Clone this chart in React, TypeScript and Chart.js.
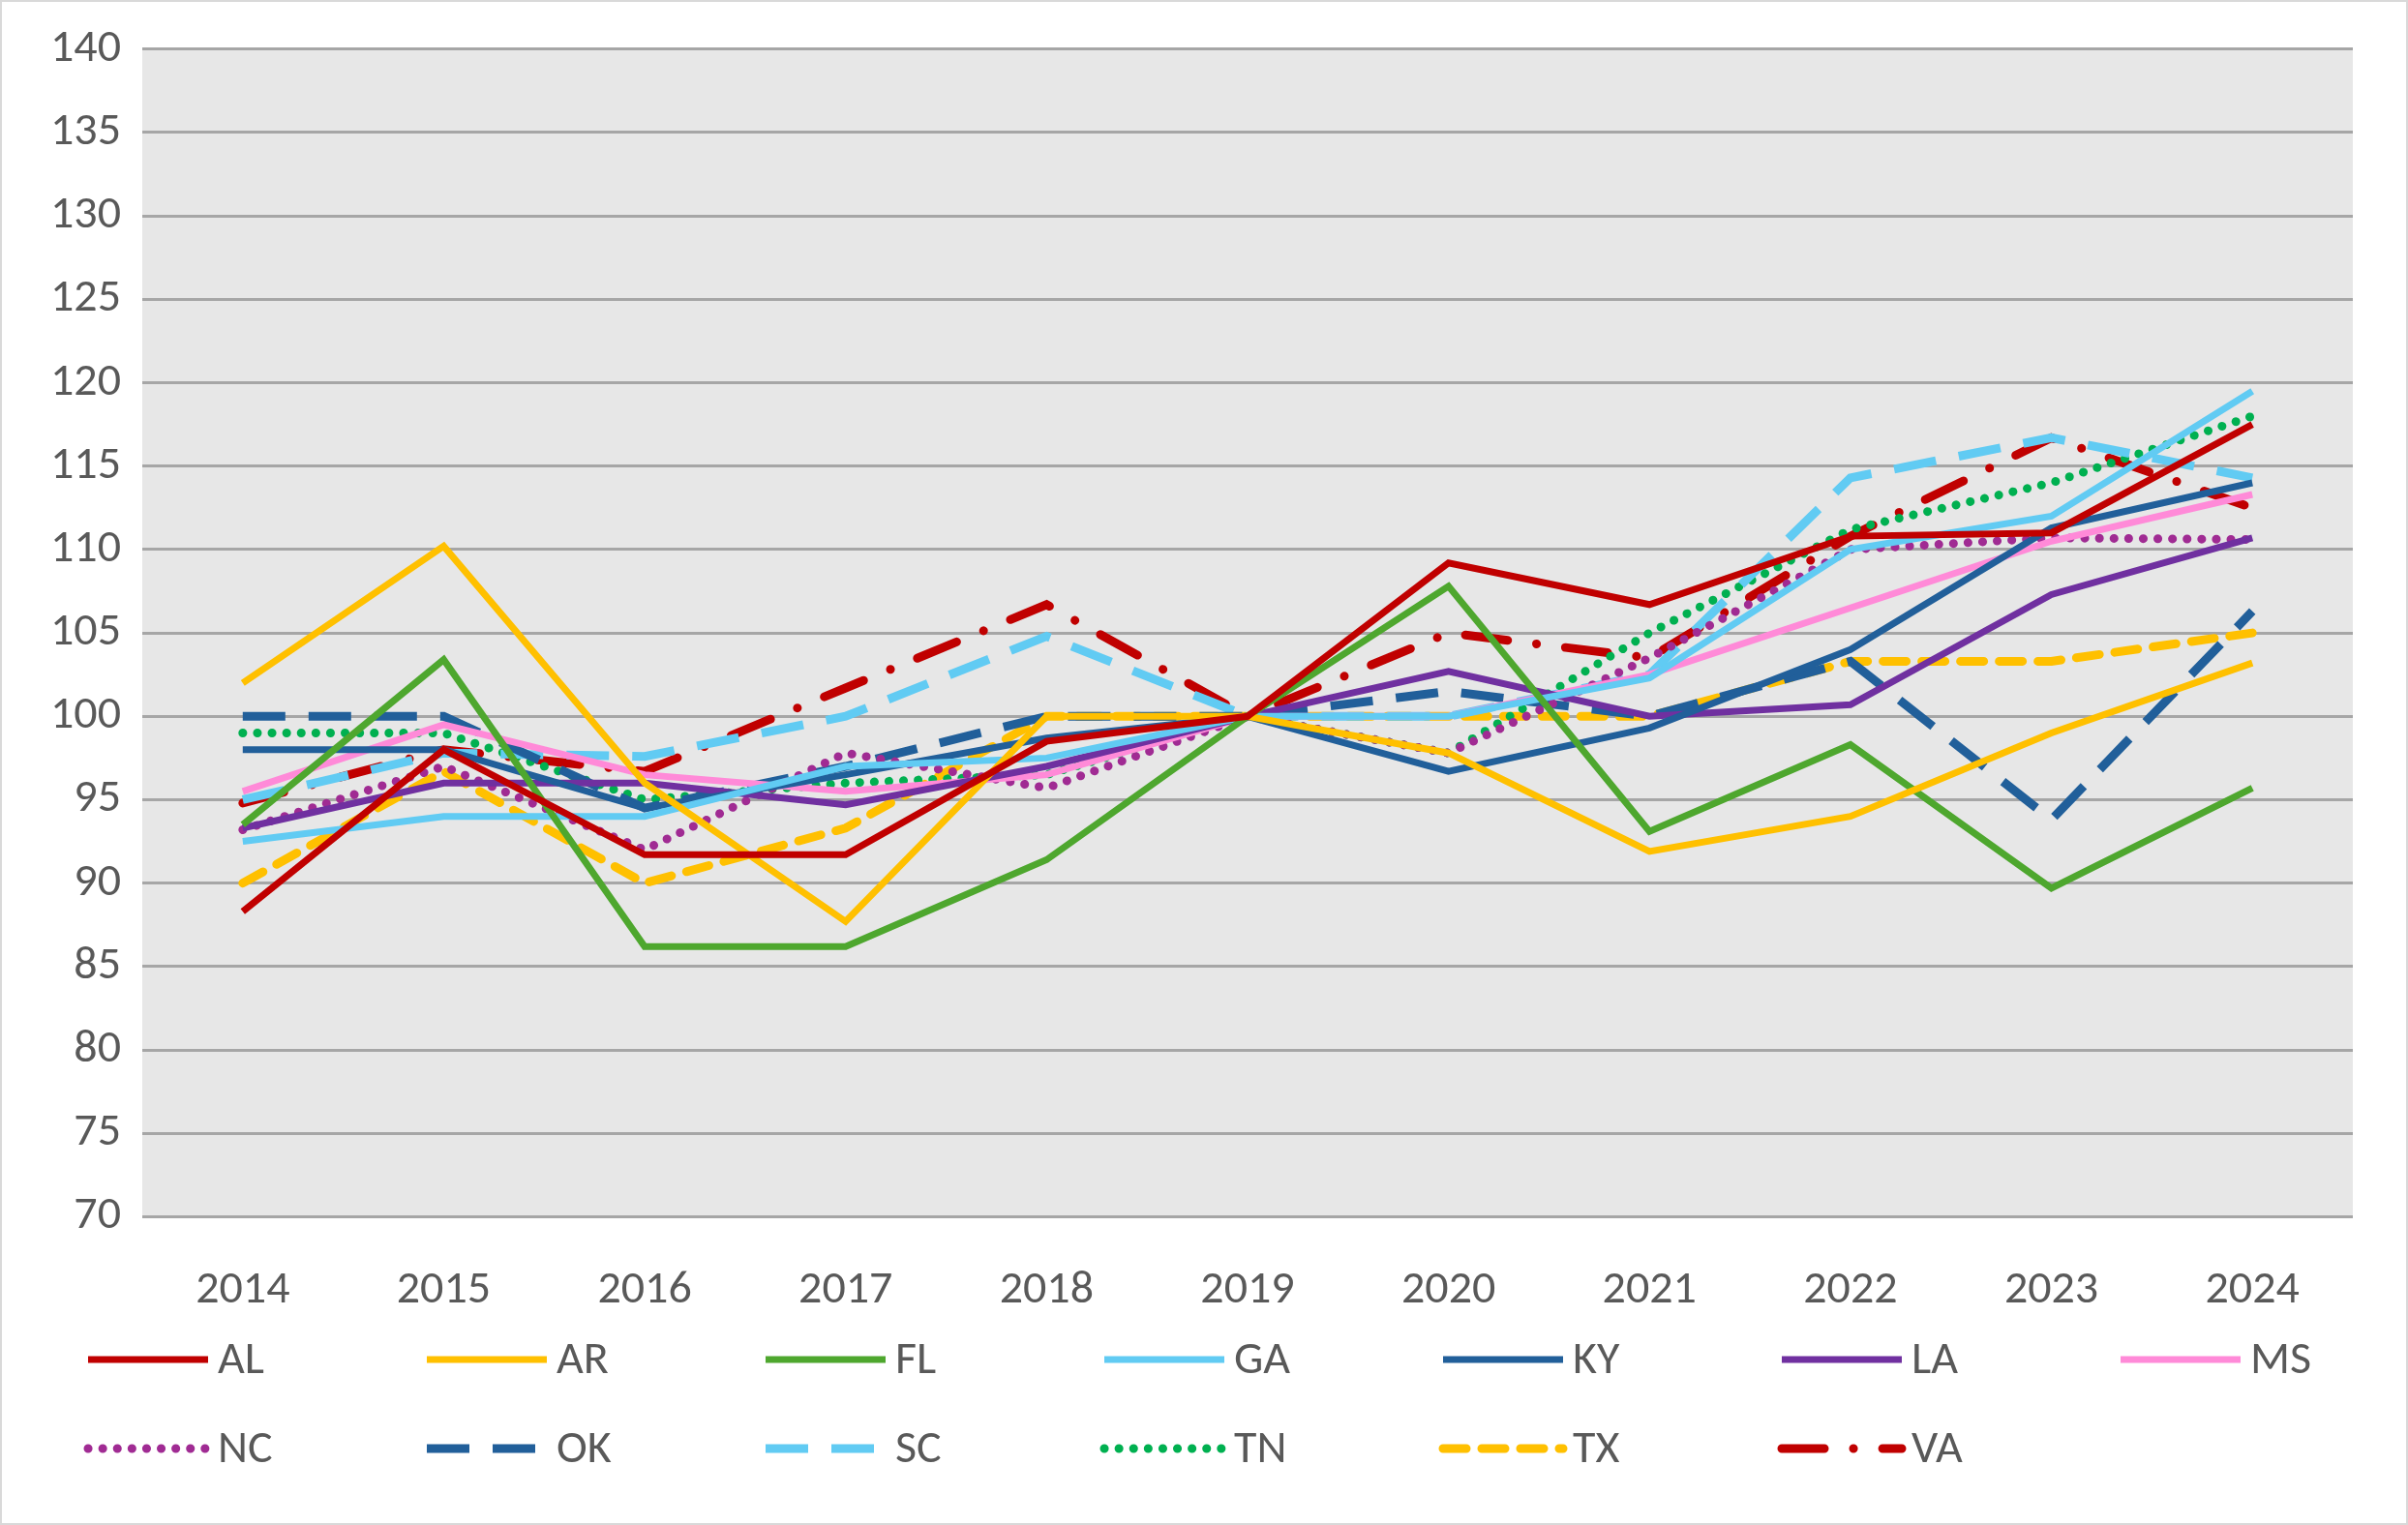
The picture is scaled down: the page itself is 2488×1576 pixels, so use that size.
import React, { useEffect, useRef } from "react";
import { Chart, registerables } from "chart.js";
Chart.register(...registerables);

const years = ["2014","2015","2016","2017","2018","2019","2020","2021","2022","2023","2024"];
const AL = [88.3, 98, 91.7, 91.7, 98.5, 100, 109.2, 106.7, 110.8, 111, 117.5];
const AR = [102, 110.2, 96, 87.7, 100, 100, 97.8, 91.9, 94, 99, 103.2];
const FL = [93.5, 103.4, 86.2, 86.2, 91.4, 100, 107.8, 93.1, 98.3, 89.7, 95.7];
const GA = [92.5, 94, 94, 97, 97.5, 100, 100, 102.3, 110, 112, 119.5];
const KY = [98, 98, 94.5, 96.5, 98.7, 100, 96.7, 99.3, 104, 111.3, 114];
const LA = [93.3, 96, 96, 94.7, 97, 100, 102.7, 100, 100.7, 107.3, 110.7];
const MS = [95.5, 99.5, 96.5, 95.5, 96.5, 100, 100, 102.5, 106.5, 110.5, 113.3];
const NC = [93.2, 97, 92, 97.8, 95.7, 100, 97.8, 103.5, 110, 110.7, 110.6];
const OK = [100, 100, 94.5, 97, 100, 100, 101.5, 100, 103.3, 93.8, 106.3];
const SC = [95, 97.8, 97.6, 100, 104.8, 100, 100, 102.5, 114.3, 116.7, 114.3];
const TN = [99, 99, 95, 96, 96.5, 100, 97.8, 105, 111.2, 114, 118];
const TX = [90, 96.7, 90, 93.3, 100, 100, 100, 100, 103.3, 103.3, 105];
const VA = [94.8, 98, 96.7, 101.7, 106.7, 100, 105, 103.5, 110.8, 116.7, 112.5];

const W = 7;
const FONT = "Calibri, Carlito, 'Liberation Sans', sans-serif";
const series: any[] = [
  { label: "AL", data: AL, color: "#C00000", dash: [], cap: "butt" },
  { label: "AR", data: AR, color: "#FFC000", dash: [], cap: "butt" },
  { label: "FL", data: FL, color: "#4EA72E", dash: [], cap: "butt" },
  { label: "GA", data: GA, color: "#61CBF3", dash: [], cap: "butt" },
  { label: "KY", data: KY, color: "#215F9A", dash: [], cap: "butt" },
  { label: "LA", data: LA, color: "#7030A0", dash: [], cap: "butt" },
  { label: "MS", data: MS, color: "#FF8AD8", dash: [], cap: "butt" },
  { label: "NC", data: NC, color: "#A02B93", dash: [0.1, 15], cap: "round", w: 9 },
  { label: "OK", data: OK, color: "#215F9A", dash: [44, 24], cap: "butt", w: 9 },
  { label: "SC", data: SC, color: "#61CBF3", dash: [44, 24], cap: "butt", w: 9 },
  { label: "TN", data: TN, color: "#00B050", dash: [0.1, 15], cap: "round", w: 9 },
  { label: "TX", data: TX, color: "#FFC000", dash: [24, 16], cap: "round", w: 9 },
  { label: "VA", data: VA, color: "#C00000", dash: [44, 30, 0.1, 30], cap: "round", w: 9 },
];

export default function App() {
  const ref = useRef<HTMLCanvasElement>(null);
  useEffect(() => {
    document.body.style.margin = "0";
    const bgPlugin = {
      id: "bg",
      beforeDraw(c: any) {
        const { ctx, chartArea: a } = c;
        ctx.save();
        ctx.fillStyle = "#fff";
        ctx.fillRect(0, 0, c.width, c.height);
        ctx.fillStyle = "#E7E7E7";
        ctx.fillRect(a.left, a.top, a.right - a.left, a.bottom - a.top);
        ctx.restore();
      },
      afterDraw(c: any) {
        const { ctx } = c;
        ctx.save();
        ctx.strokeStyle = "#D9D9D9";
        ctx.lineWidth = 2;
        ctx.strokeRect(1, 1, c.width - 2, c.height - 2);
        ctx.font = "48px " + FONT;
        ctx.textBaseline = "middle";
        series.forEach((s, i) => {
          const col = i % 7, row = Math.floor(i / 7);
          const x = 91 + col * 350, y = row === 0 ? 1405 : 1497;
          ctx.beginPath();
          ctx.strokeStyle = s.color;
          ctx.lineWidth = s.w || W;
          ctx.lineCap = s.cap;
          ctx.setLineDash(s.dash);
          ctx.moveTo(x, y);
          ctx.lineTo(x + 124, y);
          ctx.stroke();
          ctx.setLineDash([]);
          ctx.fillStyle = "#595959";
          ctx.fillText(s.label, x + 134, y + 2);
        });
        ctx.restore();
      },
    };
    const chart = new Chart(ref.current!, {
      type: "line",
      data: {
        labels: years,
        datasets: series.map((s) => ({
          label: s.label,
          data: s.data,
          borderColor: s.color,
          backgroundColor: s.color,
          borderWidth: s.w || W,
          borderDash: s.dash,
          borderCapStyle: s.cap,
          pointRadius: 0,
          tension: 0,
          fill: false,
        })),
      },
      options: {
        animation: false,
        responsive: false,
        devicePixelRatio: 1,
        layout: { padding: { left: 30, right: 57, top: 35, bottom: 173 } },
        plugins: { legend: { display: false }, tooltip: { enabled: false } },
        scales: {
          x: {
            offset: true,
            grid: { display: false },
            border: { display: false },
            ticks: { color: "#595959", padding: 40, font: { size: 48, family: FONT } },
          },
          y: {
            min: 70,
            max: 140,
            ticks: { stepSize: 5, color: "#595959", padding: 22, font: { size: 48, family: FONT } },
            grid: { color: "#A6A6A6", lineWidth: 3, drawTicks: false },
            border: { display: false },
          },
        },
      },
      plugins: [bgPlugin],
    });
    return () => chart.destroy();
  }, []);
  return <canvas ref={ref} width={2488} height={1576} style={{ display: "block", width: 2488, height: 1576 }} />;
}
